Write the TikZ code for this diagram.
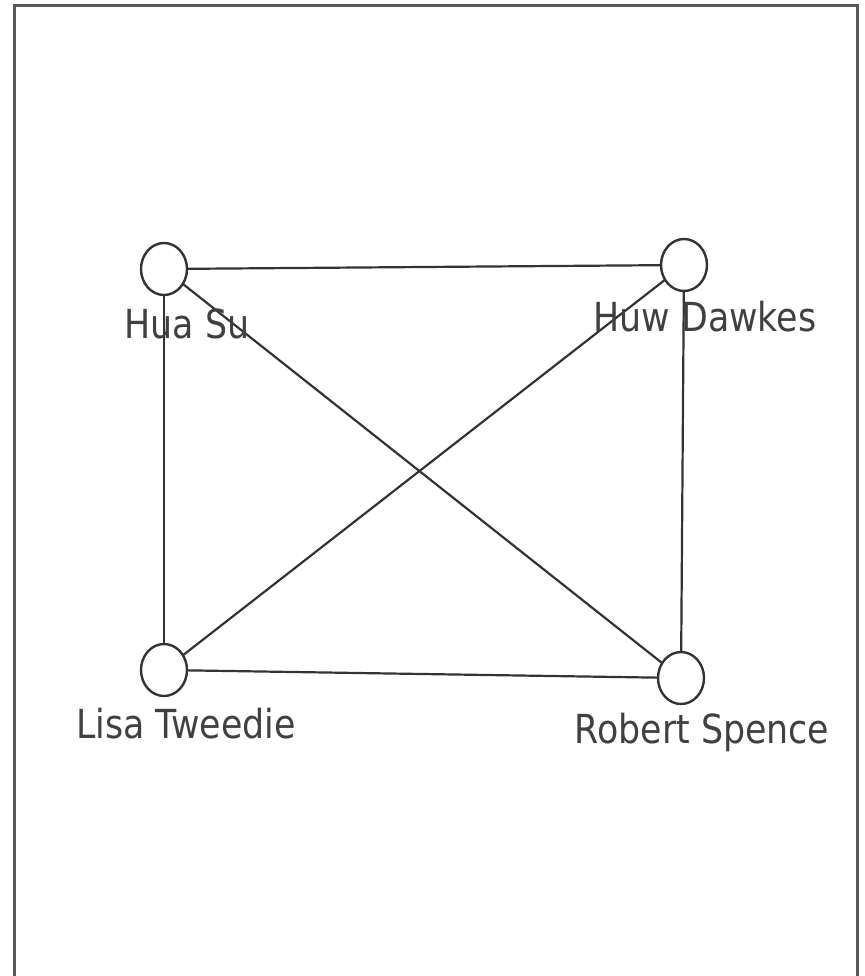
\documentclass[tikz,border=0pt]{standalone}
\usepackage{fontspec}
\setmainfont{DejaVu Sans}[FakeStretch=0.87]
\usetikzlibrary{shapes.geometric}
\begin{document}
\begin{tikzpicture}[x=1pt,y=-1pt,
  person/.style={ellipse,draw=black!80,line width=2.4pt,fill=white,minimum width=46pt,minimum height=52pt,inner sep=0pt},
  edge/.style={draw=black!80,line width=2.2pt},
  lbl/.style={anchor=base,text=black!75,font=\fontsize{40}{44}\selectfont,inner sep=0pt}]
\useasboundingbox (0,0) rectangle (864,976);
\draw[draw=black!65,line width=3pt] (14,6) rectangle (857,1010);
\coordinate (hs) at (164,269);
\coordinate (hd) at (684,265);
\coordinate (lt) at (164,670);
\coordinate (rs) at (681,678);
\draw[edge] (hs) -- (hd);
\draw[edge] (hs) -- (lt);
\draw[edge] (hs) -- (rs);
\draw[edge] (hd) -- (lt);
\draw[edge] (hd) -- (rs);
\draw[edge] (lt) -- (rs);
\node[person] (a) at (hs) {};
\node[person] (b) at (hd) {};
\node[person] (c) at (lt) {};
\node[person] (d) at (rs) {};
\node[lbl] (la) at (187,338) {Hua Su};
\node[lbl] (lb) at (705,331) {Huw Dawkes};
\node[lbl] (lc) at (186,738) {Lisa Tweedie};
\node[lbl] (ld) at (702,743) {Robert Spence};
\end{tikzpicture}
\end{document}
